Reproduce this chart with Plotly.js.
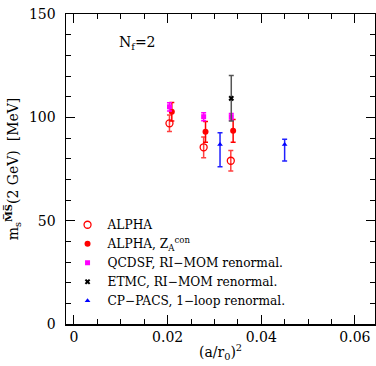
<!DOCTYPE html>
<html><head><meta charset="utf-8">
<script src="https://cdn.plot.ly/plotly-3.0.1.min.js"></script>
<style>html,body{margin:0;padding:0;background:#fff}#c{width:376px;height:366px}</style>
</head><body><div id="c"></div>
<script>
// ALPHA (open circles)
const alphaX = [0.0204, 0.0277, 0.0335];
const alphaY = [97.1, 85.5, 79.0];
const alphaErr = [4.0, 5.0, 5.0];
// ALPHA, Z_A^con (filled circles)
const alphaZX = [0.0209, 0.0281, 0.0340];
const alphaZY = [102.7, 93.0, 93.5];
const alphaZErr = [4.5, 5.0, 5.5];
// QCDSF, RI-MOM
const qcdsfX = [0.0204, 0.0277, 0.0336];
const qcdsfY = [105.1, 100.3, 100.3];
const qcdsfErr = [2.0, 1.9, 1.6];
// ETMC, RI-MOM
const etmcX = [0.0336];
const etmcY = [109.2];
const etmcErr = [11.0];
// CP-PACS, 1-loop
const cppacsX = [0.0312, 0.0450];
const cppacsY = [86.9, 86.9];
const cppacsErrPlus = [5.7, 2.5];
const cppacsErrMinus = [10.8, 8.0];

const names = ['ALPHA', 'ALPHA, Z<sub>A</sub><sup>con</sup>', 'QCDSF, RI\u2212MOM renormal.', 'ETMC, RI\u2212MOM renormal.', 'CP\u2212PACS, 1\u2212loop renormal.'];

function eb(arr, color, minus){
  const o = {type:'data', array:arr, visible:true, color:color, thickness:1.5, width:2.5};
  if (minus){ o.symmetric=false; o.arrayminus=minus; }
  return o;
}
const traces = [
  {x:alphaX, y:alphaY, name:names[0], mode:'markers', type:'scatter',
   marker:{symbol:'circle-open', size:7, color:'#ff0000', line:{width:1.3, color:'#ff0000'}}, error_y:eb(alphaErr,'#ff4040')},
  {x:alphaZX, y:alphaZY, name:names[1], mode:'markers', type:'scatter',
   marker:{symbol:'circle', size:6, color:'#ff0000'}, error_y:eb(alphaZErr,'#ff0000')},
  {x:qcdsfX, y:qcdsfY, name:names[2], mode:'markers', type:'scatter',
   marker:{symbol:'square', size:5, color:'#ff00ff'}, error_y:eb(qcdsfErr,'#ff00ff')},
  {x:etmcX, y:etmcY, name:names[3], mode:'markers', type:'scatter',
   marker:{symbol:'x', size:5, color:'#000000'}, error_y:eb(etmcErr,'#555555')},
  {x:cppacsX, y:cppacsY, name:names[4], mode:'markers', type:'scatter',
   marker:{symbol:'triangle-up', size:5, color:'#0000ff'}, error_y:eb(cppacsErrPlus,'#2020ff',cppacsErrMinus)}
];

const F = 'DejaVu Serif, serif';
const layout = {
  width:376, height:366,
  margin:{l:66, r:1, t:14, b:42},
  paper_bgcolor:'#fff', plot_bgcolor:'#fff',
  font:{family:F, color:'#000', size:13},
  showlegend:true,
  legend:{x:0.005, y:0.367, xanchor:'left', yanchor:'top', bgcolor:'rgba(0,0,0,0)',
          font:{family:F, size:12.2, color:'#000'}, itemwidth:30, tracegroupgap:0},
  xaxis:{range:[-0.0017, 0.0643], tickvals:[0,0.02,0.04,0.06], ticktext:['0','0.02','0.04','0.06'],
         ticks:'inside', ticklen:9, tickwidth:1, tickcolor:'#000',
         minor:{dtick:0.005, tick0:0, ticks:'inside', ticklen:5, tickcolor:'#000'},
         showline:true, linecolor:'#000', linewidth:1.5, mirror:'allticks', showgrid:false, zeroline:false,
         tickfont:{family:F, size:14}, title:{text:'(a/r<sub>0</sub>)<sup>2</sup>', font:{family:F, size:14}, standoff:3}},
  yaxis:{range:[0,150], tickvals:[0,50,100,150], ticks:'inside', ticklen:9, tickwidth:1, tickcolor:'#000',
         minor:{dtick:10, tick0:0, ticks:'inside', ticklen:5, tickcolor:'#000'},
         showline:true, linecolor:'#000', linewidth:1.5, mirror:'allticks', showgrid:false, zeroline:false,
         tickfont:{family:F, size:14}, ticklabelstandoff:6,
         title:{text:'m<sub>s</sub><sup><b>M\u0305S\u0305</b></sup>(2 GeV)  [MeV]', font:{family:F, size:14}, standoff:7}},
  annotations:[{xref:'paper', yref:'paper', x:0.23, y:0.906, xanchor:'center', yanchor:'middle', showarrow:false,
    text:'N<sub>f</sub>=2', font:{family:F, size:14}}]
};
Plotly.newPlot('c', traces, layout, {displayModeBar:false, staticPlot:true});
</script></body></html>
